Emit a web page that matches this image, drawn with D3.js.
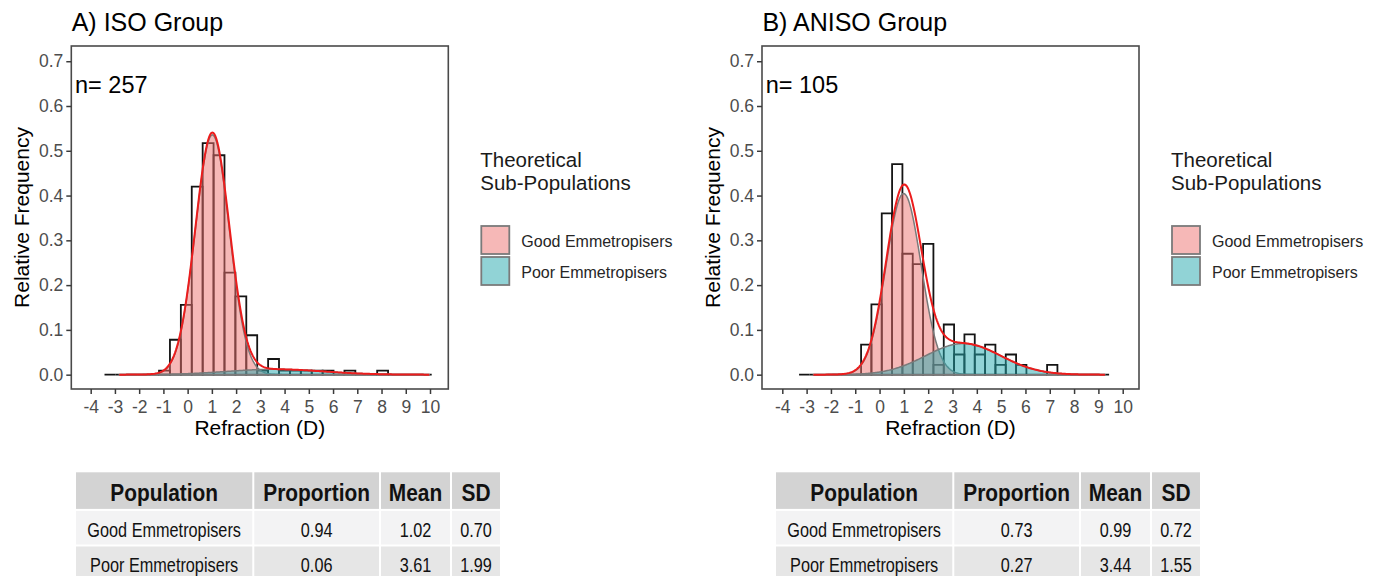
<!DOCTYPE html>
<html>
<head>
<meta charset="utf-8">
<script src="https://cdn.jsdelivr.net/npm/d3@7"></script>
<style>
  body { margin: 0; background: #fff; }
  svg { display: block; font-family: "Liberation Sans", Arial, Helvetica, sans-serif; }
</style>
</head>
<body>
<svg id="chart" width="1384" height="576"></svg>
<script>
// ---- data ----
const xTicks = [-4, -3, -2, -1, 0, 1, 2, 3, 4, 5, 6, 7, 8, 9, 10];
const yTicks = [0, 0.1, 0.2, 0.3, 0.4, 0.5, 0.6, 0.7];
const populations = ["Good Emmetropisers", "Poor Emmetropisers"];
const tableHeader = ["Population", "Proportion", "Mean", "SD"];

// ISO group: 30 histogram bins (relative frequency)
const isoN = 257;
const isoBinStart = -3.43, isoBinWidth = 0.45;
const isoFreq = [0, 0, 0, 0, 0, 0.009, 0.078, 0.156, 0.42, 0.517,
                 0.49, 0.228, 0.175, 0.088, 0.009, 0.035, 0.009, 0.009, 0.009, 0.009,
                 0.009, 0, 0.009, 0, 0, 0.009, 0, 0, 0, 0];
const isoProportion = [0.94, 0.06];
const isoMean = [1.02, 3.61];
const isoSD = [0.70, 1.99];
const isoCurveRange = [-2.82, 9.97];

// ANISO group
const anisoN = 105;
const anisoBinStart = -3.31, anisoBinWidth = 0.425;
const anisoFreq = [0, 0, 0, 0, 0, 0, 0.067, 0.157, 0.36, 0.47,
                   0.27, 0.247, 0.292, 0.022, 0.112, 0.045, 0.09, 0.045, 0.067, 0.022,
                   0.045, 0.022, 0, 0, 0.022, 0, 0, 0, 0, 0];
const anisoProportion = [0.73, 0.27];
const anisoMean = [0.99, 3.44];
const anisoSD = [0.72, 1.55];
const anisoCurveRange = [-2.72, 9.27];

// ---- styling ----
const fillCols = ["#ED716F", "#23A7AD"];
const svg = d3.select("#chart");

const panels = [
  { title: "A) ISO Group", n: isoN, start: isoBinStart, width: isoBinWidth, freq: isoFreq,
    prop: isoProportion, mean: isoMean, sd: isoSD, range: isoCurveRange,
    left: 71.3, xDomain: [-4.8, 10.755], tableLeft: 75 },
  { title: "B) ANISO Group", n: anisoN, start: anisoBinStart, width: anisoBinWidth, freq: anisoFreq,
    prop: anisoProportion, mean: anisoMean, sd: anisoSD, range: anisoCurveRange,
    left: 762, xDomain: [-4.835, 10.67], tableLeft: 775 }
];

const panelTop = 46, pw = 377, ph = 343;

function dnorm(v, m, s) {
  return Math.exp(-0.5 * ((v - m) / s) ** 2) / (s * Math.sqrt(2 * Math.PI));
}

panels.forEach(p => {
  const g = svg.append("g").attr("transform", `translate(${p.left},${panelTop})`);
  const x = d3.scaleLinear().domain(p.xDomain).range([0, pw]);
  const y = d3.scaleLinear().domain([-0.032, 0.734]).range([ph, 0]);

  // histogram outlines
  g.selectAll("path.bar").data(p.freq).enter().append("path")
    .attr("class", "bar")
    .attr("d", (d, i) => {
      const x0 = x(p.start + i * p.width), x1 = x(p.start + (i + 1) * p.width);
      return `M${x0},${y(0)}V${y(d)}H${x1}V${y(0)}Z`;
    })
    .attr("fill", "none").attr("stroke", "#141414").attr("stroke-width", 1.8);

  // component densities (fitted normals from the table parameters)
  const grid = d3.range(0, 301).map(k => p.range[0] + (p.range[1] - p.range[0]) * k / 300);
  p.prop.forEach((w, c) => {
    const pts = grid.map(v => ({ x: v, y: w * dnorm(v, p.mean[c], p.sd[c]) }));
    g.append("path").datum(pts)
      .attr("d", d3.area().x(d => x(d.x)).y0(y(0)).y1(d => y(d.y)))
      .attr("fill", fillCols[c]).attr("fill-opacity", 0.5)
      .attr("stroke", "#7a7a7a").attr("stroke-width", 1.5);
  });

  // mixture total
  const total = grid.map(v => ({ x: v, y: d3.sum(p.prop, (w, c) => w * dnorm(v, p.mean[c], p.sd[c])) }));
  g.append("path").datum(total)
    .attr("d", d3.line().x(d => x(d.x)).y(d => y(d.y)))
    .attr("fill", "none").attr("stroke", "#ec1c1c").attr("stroke-width", 2);

  // border
  g.append("rect").attr("width", pw).attr("height", ph)
    .attr("fill", "none").attr("stroke", "#4a4a4a").attr("stroke-width", 1.6);

  // axes
  const xa = g.append("g").attr("transform", `translate(0,${ph})`)
    .call(d3.axisBottom(x).tickValues(xTicks).tickSize(5).tickPadding(7).tickFormat(d => String(d)));
  const ya = g.append("g")
    .call(d3.axisLeft(y).tickValues(yTicks).tickSize(5).tickPadding(3).tickFormat(d => d.toFixed(1)));
  [xa, ya].forEach(a => {
    a.select(".domain").remove();
    a.selectAll("line").attr("stroke", "#3a3a3a").attr("stroke-width", 1.5);
    a.selectAll("text").attr("fill", "#4d4d4d").style("font-size", "17.5px");
  });

  // texts
  g.append("text").attr("x", 0.4).attr("y", 30.7 - panelTop)
    .style("font-size", "25px").attr("fill", "#000").text(p.title);
  g.append("text").attr("x", 3.7).attr("y", 93.3 - panelTop)
    .style("font-size", "23.5px").attr("fill", "#000").text("n= " + p.n);
  g.append("text").attr("x", pw / 2).attr("y", 435 - panelTop).attr("text-anchor", "middle")
    .style("font-size", "21px").attr("fill", "#000").text("Refraction (D)");
  g.append("text").attr("transform", `translate(${29 - 71.3},${ph / 2}) rotate(-90)`)
    .attr("text-anchor", "middle")
    .style("font-size", "21px").attr("fill", "#000").text("Relative Frequency");

  // legend
  const lg = svg.append("g").attr("transform", `translate(${p.left + pw + 32},0)`);
  lg.append("text").attr("x", 0).attr("y", 166.7).style("font-size", "20.5px").attr("fill", "#1a1a1a").text("Theoretical");
  lg.append("text").attr("x", 0).attr("y", 190).style("font-size", "20.5px").attr("fill", "#1a1a1a").text("Sub-Populations");
  populations.forEach((name, c) => {
    const cy = 240 + c * 31;
    lg.append("rect").attr("x", 1).attr("y", cy - 14).attr("width", 28).attr("height", 28)
      .attr("fill", fillCols[c]).attr("fill-opacity", 0.5)
      .attr("stroke", "#7a7a7a").attr("stroke-width", 1.8);
    lg.append("text").attr("x", 41).attr("y", cy + 6.5).style("font-size", "16px")
      .attr("fill", "#262626").text(name);
  });

  // table
  const colEdges = [0, 178.3, 305, 376, 426];
  const rowEdges = [471.3, 509.9, 545.5, 581.1];
  const rowBg = ["#d3d3d3", "#f3f3f4", "#e6e6e6"];
  const baselines = [501, 537, 572];
  const rows = [tableHeader].concat(populations.map((name, c) =>
    [name, p.prop[c].toFixed(2), p.mean[c].toFixed(2), p.sd[c].toFixed(2)]));
  const tg = svg.append("g").attr("transform", `translate(${p.tableLeft},0)`);
  rows.forEach((row, r) => {
    row.forEach((cell, j) => {
      tg.append("rect")
        .attr("x", colEdges[j] + 1).attr("y", rowEdges[r] + 1)
        .attr("width", colEdges[j + 1] - colEdges[j] - 2)
        .attr("height", rowEdges[r + 1] - rowEdges[r] - 2)
        .attr("fill", rowBg[r]);
      const cx = (colEdges[j] + colEdges[j + 1]) / 2;
      tg.append("text")
        .attr("transform", `translate(${cx},${baselines[r]}) scale(${r === 0 ? 0.87 : 0.775},1)`)
        .attr("text-anchor", "middle")
        .style("font-size", r === 0 ? "24px" : "21px")
        .style("font-weight", r === 0 ? "bold" : "normal")
        .attr("fill", "#111").text(cell);
    });
  });
});
</script>
</body>
</html>
